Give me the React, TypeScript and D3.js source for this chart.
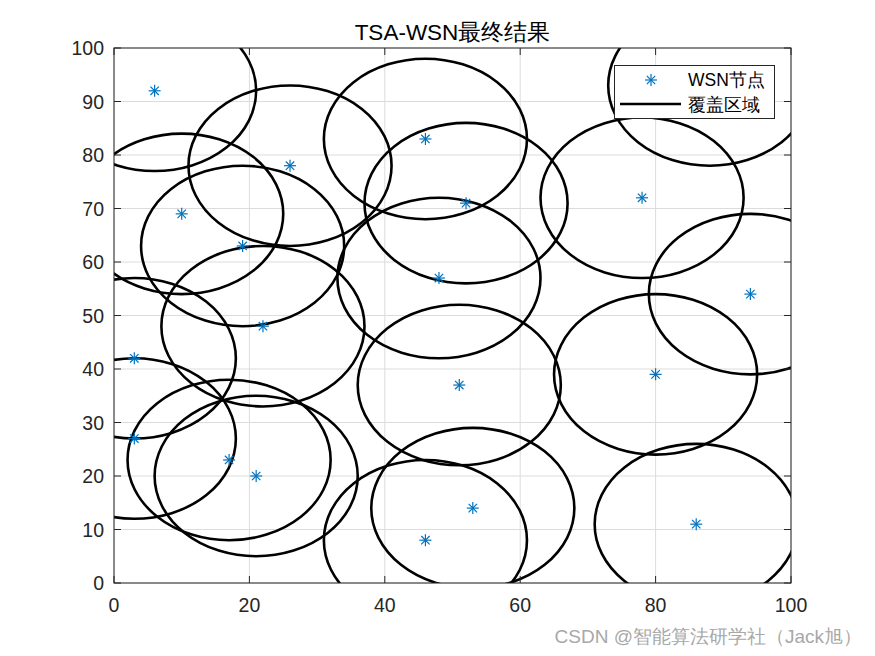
import React from "react";
import * as d3 from "d3";

const nodeX = [6, 10, 26, 19, 22, 3, 3, 17, 21, 46, 52, 48, 51, 53, 46, 78, 94, 80, 86, 88];
const nodeY = [92, 69, 78, 63, 48, 42, 27, 23, 20, 83, 71, 57, 37, 14, 8, 72, 54, 39, 11, 93];
const radius = 15;
const xTicks = [0, 20, 40, 60, 80, 100];
const yTicks = [0, 10, 20, 30, 40, 50, 60, 70, 80, 90, 100];
const title = "TSA-WSN最终结果";
const legendLabels = ["WSN节点", "覆盖区域"];

const W = 875, H = 656;
const L = 114, R = 791, T = 48, B = 583;
const font = "'Liberation Sans', Arial, Helvetica, sans-serif";
const blue = "#0072BD";

function Star({ cx, cy, s }: { cx: number; cy: number; s: number }) {
  const d = s * 0.7;
  return (
    <g stroke={blue} strokeWidth={1.2}>
      <line x1={cx - s} y1={cy} x2={cx + s} y2={cy} />
      <line x1={cx} y1={cy - s} x2={cx} y2={cy + s} />
      <line x1={cx - d} y1={cy - d} x2={cx + d} y2={cy + d} />
      <line x1={cx - d} y1={cy + d} x2={cx + d} y2={cy - d} />
    </g>
  );
}

export default function App() {
  const x = d3.scaleLinear().domain([0, 100]).range([L, R]);
  const y = d3.scaleLinear().domain([0, 100]).range([B, T]);
  const rx = x(radius) - x(0);
  const ry = y(0) - y(radius);
  return (
    <svg width={W} height={H} style={{ position: "absolute", left: 0, top: 0, background: "#fff" }}>
      <rect x={0} y={0} width={W} height={H} fill="#fff" />
      <defs>
        <clipPath id="plotclip">
          <rect x={L} y={T} width={R - L} height={B - T} />
        </clipPath>
      </defs>
      <g stroke="#dcdcdc" strokeWidth={1}>
        {xTicks.map((t) => (
          <line key={"gx" + t} x1={x(t)} x2={x(t)} y1={T} y2={B} />
        ))}
        {yTicks.map((t) => (
          <line key={"gy" + t} x1={L} x2={R} y1={y(t)} y2={y(t)} />
        ))}
      </g>
      <g clipPath="url(#plotclip)" fill="none" stroke="#000" strokeWidth={2.6}>
        {nodeX.map((vx, i) => (
          <ellipse key={"c" + i} cx={x(vx)} cy={y(nodeY[i])} rx={rx} ry={ry} />
        ))}
      </g>
      <g clipPath="url(#plotclip)">
        {nodeX.map((vx, i) => (
          <Star key={"s" + i} cx={x(vx)} cy={y(nodeY[i])} s={6} />
        ))}
      </g>
      <rect x={L} y={T} width={R - L} height={B - T} fill="none" stroke="#262626" strokeWidth={1} />
      <g stroke="#262626" strokeWidth={1}>
        {xTicks.map((t) => (
          <g key={"tx" + t}>
            <line x1={x(t)} x2={x(t)} y1={B} y2={B - 7} />
            <line x1={x(t)} x2={x(t)} y1={T} y2={T + 7} />
          </g>
        ))}
        {yTicks.map((t) => (
          <g key={"ty" + t}>
            <line x1={L} x2={L + 7} y1={y(t)} y2={y(t)} />
            <line x1={R} x2={R - 7} y1={y(t)} y2={y(t)} />
          </g>
        ))}
      </g>
      <g fontFamily={font} fontSize={19.5} fill="#262626">
        {xTicks.map((t) => (
          <text key={"lx" + t} x={x(t)} y={B + 29} textAnchor="middle">
            {t}
          </text>
        ))}
        {yTicks.map((t) => (
          <text key={"ly" + t} x={L - 10} y={y(t) + 7} textAnchor="end">
            {t}
          </text>
        ))}
      </g>
      <text x={(L + R) / 2} y={40} textAnchor="middle" fontFamily={font} fontSize={22.5} fill="#000">
        {title}
      </text>
      <g>
        <rect x={614.5} y={65.5} width={160} height={53} fill="#fff" stroke="#262626" strokeWidth={1} />
        <Star cx={651} cy={80} s={6} />
        <line x1={620} x2={681} y1={104} y2={104} stroke="#000" strokeWidth={2.6} />
        <g fontFamily={font} fontSize={17.5} fill="#000">
          <text x={688} y={86}>{legendLabels[0]}</text>
          <text x={688} y={111}>{legendLabels[1]}</text>
        </g>
      </g>
      <text x={862} y={643} textAnchor="end" fontFamily={font} fontSize={19} fill="#a8a8a8">
        CSDN @智能算法研学社（Jack旭）
      </text>
    </svg>
  );
}
